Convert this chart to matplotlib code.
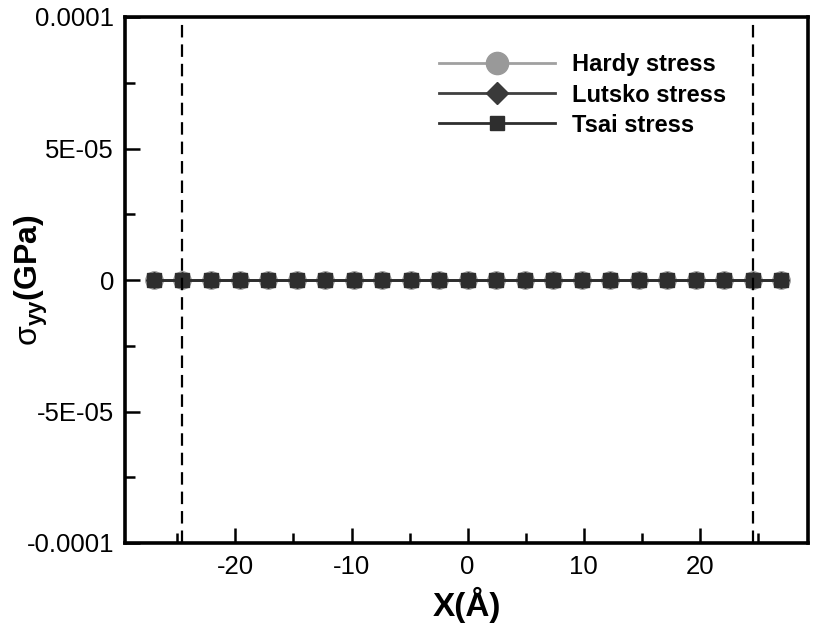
import numpy as np
import matplotlib
matplotlib.use("Agg")
import matplotlib.pyplot as plt
from matplotlib.ticker import FixedLocator, MultipleLocator
from matplotlib.lines import Line2D

plt.rcParams["font.family"] = ["Liberation Sans", "DejaVu Sans"]
plt.rcParams["mathtext.fontset"] = "custom"
plt.rcParams["mathtext.rm"] = "Liberation Sans"
plt.rcParams["mathtext.it"] = "Liberation Sans:italic"
plt.rcParams["mathtext.bf"] = "Liberation Sans:bold"
plt.rcParams["lines.scale_dashes"] = False
plt.rcParams["axes.unicode_minus"] = False

# atom positions along x (Angstrom) and the stress read at each one (all zero)
x_pos = [-27.0, -24.55, -22.09, -19.64, -17.18, -14.73, -12.27, -9.82, -7.36,
         -4.91, -2.45, 0.0, 2.45, 4.91, 7.36, 9.82, 12.27, 14.73, 17.18, 19.64,
         22.09, 24.55, 27.0]
hardy = [0.0, 0.0, 0.0, 0.0, 0.0, 0.0, 0.0, 0.0, 0.0, 0.0, 0.0, 0.0,
         0.0, 0.0, 0.0, 0.0, 0.0, 0.0, 0.0, 0.0, 0.0, 0.0, 0.0]
lutsko = [0.0, 0.0, 0.0, 0.0, 0.0, 0.0, 0.0, 0.0, 0.0, 0.0, 0.0, 0.0,
          0.0, 0.0, 0.0, 0.0, 0.0, 0.0, 0.0, 0.0, 0.0, 0.0, 0.0]
tsai = [0.0, 0.0, 0.0, 0.0, 0.0, 0.0, 0.0, 0.0, 0.0, 0.0, 0.0, 0.0,
        0.0, 0.0, 0.0, 0.0, 0.0, 0.0, 0.0, 0.0, 0.0, 0.0, 0.0]
boundaries = [-24.6, 24.6]

yticks = [-1e-4, -5e-5, 0.0, 5e-5, 1e-4]
ytick_labels = ["-0.0001", "-5E-05", "0", "5E-05", "0.0001"]
xticks = [-20, -10, 0, 10, 20]

fig = plt.figure(figsize=(8.16, 6.3), dpi=100)
ax = fig.add_axes([125 / 816, 1 - 543 / 630, (808 - 125) / 816, (543 - 17) / 630])

ax.plot(x_pos, hardy, color="#a0a0a0", lw=2, marker="o", ms=12.5,
        mfc="#999999", mec="#999999", zorder=3)
ax.plot(x_pos, lutsko, color="#404040", lw=2, marker="D", ms=8.5,
        mfc="#3a3a3a", mec="#3a3a3a", zorder=4)
ax.plot(x_pos, tsai, color="#2e2e2e", lw=2, marker="s", ms=10,
        mfc="#2e2e2e", mec="#2e2e2e", zorder=5)

for b in boundaries:
    ax.axvline(b, color="black", lw=1.6, dashes=(9, 5), zorder=6)

ax.set_xlim(-29.5, 29.3)
ax.set_ylim(-1e-4, 1e-4)
ax.xaxis.set_major_locator(FixedLocator(xticks))
ax.xaxis.set_minor_locator(MultipleLocator(5))
ax.set_yticks(yticks)
ax.set_yticklabels(ytick_labels)
ax.yaxis.set_minor_locator(MultipleLocator(2.5e-5))
ax.tick_params(which="both", direction="in", top=False, right=False,
               width=1.8, labelsize=18.5)
ax.tick_params(axis="x", pad=9)
ax.tick_params(axis="y", pad=8)
ax.tick_params(which="major", length=11)
ax.tick_params(which="minor", length=7)
for s in ax.spines.values():
    s.set_linewidth(2.6)

ax.set_xlabel("X(Å)", fontsize=24, fontweight="bold")
ax.xaxis.set_label_coords(0.5, -(587 - 543) / 526, transform=ax.transAxes)
ax.set_ylabel(r"$\mathrm{\sigma}_{\mathbf{yy}}$(GPa)", fontsize=23, fontweight="bold")
ax.yaxis.set_label_coords(-(125 - 50) / 683, 0.5, transform=ax.transAxes)

handles = [
    Line2D([], [], color="#a0a0a0", lw=2, marker="o", ms=16, mfc="#999999", mec="#999999"),
    Line2D([], [], color="#404040", lw=2, marker="D", ms=11, mfc="#3a3a3a", mec="#3a3a3a"),
    Line2D([], [], color="#2e2e2e", lw=2, marker="s", ms=10, mfc="#2e2e2e", mec="#2e2e2e"),
]
ax.legend(handles, ["Hardy stress", "Lutsko stress", "Tsai stress"],
          loc="upper left", bbox_to_anchor=(430 / 816, 1 - 44 / 630),
          bbox_transform=fig.transFigure, frameon=False,
          prop={"size": 17, "weight": "bold"}, handlelength=4.9,
          handletextpad=0.7, labelspacing=0.3, borderaxespad=0)

fig.savefig("out.png", dpi=100)
